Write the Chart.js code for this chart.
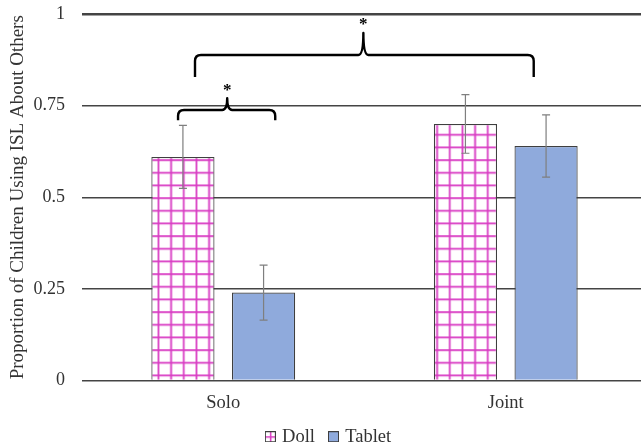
<!DOCTYPE html>
<html>
<head>
<meta charset="utf-8">
<script src="https://cdn.jsdelivr.net/npm/chart.js@4/dist/chart.umd.min.js"></script>
<style>
  html, body { margin: 0; padding: 0; background: #fff; overflow: hidden; }
  #wrap { width: 647px; height: 447px; }
</style>
</head>
<body>
<div id="wrap"><canvas id="chart_isl" width="647" height="447"></canvas></div>
<script>
// data
var categories = ['Solo', 'Joint'];
var seriesNames = ['Doll', 'Tablet'];
var dollValues = [0.61, 0.70];
var tabletValues = [0.24, 0.64];
var dollErrors = [0.086, 0.08];
var tabletErrors = [0.075, 0.085];
var yTicks = [0, 0.25, 0.5, 0.75, 1];
var yTickLabels = ['0', '0.25', '0.5', '0.75', '1'];

var FONT = '"Liberation Serif", "Times New Roman", serif';
var PINK = '#d93cc3';
var BLUE = '#8faadc';
var EDGE = '#3f3f3f';
var TEXT = '#333333';

// pink grid fill for the doll bars
function gridPattern() {
  var c = document.createElement('canvas');
  c.width = 38; c.height = 38;
  var g = c.getContext('2d');
  g.fillStyle = '#fff';
  g.fillRect(0, 0, 38, 38);
  g.fillStyle = PINK;
  for (var i = 0; i < 3; i++) {
    var p = i * 38 / 3;
    g.fillRect(p, 0, 1.8, 38);
    g.fillRect(0, p, 38, 1.8);
  }
  var pat = document.getElementById('chart_isl').getContext('2d').createPattern(c, 'repeat');
  if (pat.setTransform) pat.setTransform(new DOMMatrix().translate(5.5, 7.2));
  return pat;
}

function legendIcon(kind) {
  var c = document.createElement('canvas');
  c.width = 11; c.height = 11;
  var g = c.getContext('2d');
  g.fillStyle = kind === 'doll' ? '#fff' : BLUE;
  g.fillRect(0, 0, 11, 11);
  if (kind === 'doll') {
    g.fillStyle = PINK;
    g.fillRect(5, 1, 1.5, 9);
    g.fillRect(1, 5, 9, 1.5);
  }
  g.strokeStyle = EDGE;
  g.lineWidth = 1;
  g.strokeRect(0.5, 0.5, 10, 10);
  return c;
}

var errorBars = {
  id: 'errorBars',
  afterDatasetsDraw: function (chart) {
    var ctx = chart.ctx;
    var y = chart.scales.y;
    var errs = [dollErrors, tabletErrors];
    ctx.save();
    ctx.strokeStyle = '#7f7f7f';
    ctx.lineWidth = 1.2;
    chart.data.datasets.forEach(function (ds, di) {
      chart.getDatasetMeta(di).data.forEach(function (bar, i) {
        var v = ds.data[i], e = errs[di][i];
        var top = y.getPixelForValue(v + e), bot = y.getPixelForValue(v - e);
        ctx.beginPath();
        ctx.moveTo(bar.x, top); ctx.lineTo(bar.x, bot);
        ctx.moveTo(bar.x - 4, top); ctx.lineTo(bar.x + 4, top);
        ctx.moveTo(bar.x - 4, bot); ctx.lineTo(bar.x + 4, bot);
        ctx.stroke();
      });
    });
    ctx.restore();
  }
};

// significance braces, placed in category / value units
var braces = {
  id: 'braces',
  afterDraw: function (chart) {
    var ctx = chart.ctx, x = chart.scales.x, y = chart.scales.y;
    var list = [
      { a: -0.16, b: 0.184, m: 0.014, line: 0.738, foot: 0.71, tip: 0.77, star: 0.80 },
      { a: -0.10, b: 1.099, m: 0.496, line: 0.888, foot: 0.828, tip: 0.948, star: 0.978 }
    ];
    ctx.save();
    ctx.strokeStyle = '#000';
    ctx.lineWidth = 2.4;
    ctx.lineJoin = 'round';
    list.forEach(function (b) {
      var xa = x.getPixelForValue(b.a), xb = x.getPixelForValue(b.b), xm = x.getPixelForValue(b.m);
      var yl = y.getPixelForValue(b.line), yf = y.getPixelForValue(b.foot), yt = y.getPixelForValue(b.tip);
      var r = 6;
      ctx.beginPath();
      ctx.moveTo(xa, yf);
      ctx.lineTo(xa, yl + r);
      ctx.quadraticCurveTo(xa, yl, xa + r, yl);
      ctx.lineTo(xm - 5, yl);
      ctx.quadraticCurveTo(xm, yl, xm, yt);
      ctx.quadraticCurveTo(xm, yl, xm + 5, yl);
      ctx.lineTo(xb - r, yl);
      ctx.quadraticCurveTo(xb, yl, xb, yl + r);
      ctx.lineTo(xb, yf);
      ctx.stroke();
      ctx.fillStyle = '#000';
      ctx.font = 'bold 17px ' + FONT;
      ctx.textAlign = 'center';
      ctx.textBaseline = 'middle';
      ctx.fillText('*', xm, y.getPixelForValue(b.star) + 3);
    });
    ctx.restore();
  }
};

// nudge the legend a little to the right, as in the original figure
var legendNudge = {
  id: 'legendNudge',
  afterLayout: function (chart) {
    if (chart.legend) { chart.legend.left += 6; chart.legend.right += 6; }
  }
};

var chart_isl = new Chart(document.getElementById('chart_isl'), {
  type: 'bar',
  data: {
    labels: categories,
    datasets: [
      {
        label: seriesNames[0],
        data: dollValues,
        backgroundColor: gridPattern(),
        borderColor: EDGE,
        borderWidth: 1.2,
        categoryPercentage: 0.571,
        barPercentage: 0.783
      },
      {
        label: seriesNames[1],
        data: tabletValues,
        backgroundColor: BLUE,
        borderColor: EDGE,
        borderWidth: 1.2,
        categoryPercentage: 0.571,
        barPercentage: 0.783
      }
    ]
  },
  options: {
    animation: false,
    responsive: false,
    devicePixelRatio: 1,
    layout: { padding: { top: 14, left: 0, right: 0, bottom: -9 } },
    plugins: {
      tooltip: { enabled: false },
      legend: {
        position: 'bottom',
        labels: {
          color: TEXT,
          font: { family: FONT, size: 18.5 },
          usePointStyle: true,
          pointStyleWidth: 5,
          padding: 16,
          generateLabels: function () {
            return [
              { text: seriesNames[0], pointStyle: legendIcon('doll'), fontColor: TEXT, datasetIndex: 0 },
              { text: seriesNames[1], pointStyle: legendIcon('tablet'), fontColor: TEXT, datasetIndex: 1 }
            ];
          }
        }
      }
    },
    scales: {
      x: {
        grid: { display: false, drawTicks: false },
        border: { display: false },
        afterFit: function (s) { s.height = 31; },
        ticks: { color: TEXT, font: { family: FONT, size: 18.5 }, padding: 12 }
      },
      y: {
        min: 0,
        max: 1,
        afterFit: function (s) { s.width = 82; },
        afterBuildTicks: function (s) { s.ticks = yTicks.map(function (v) { return { value: v }; }); },
        border: { display: false },
        grid: {
          drawTicks: true,
          tickLength: 17,
          tickColor: 'rgba(0,0,0,0)',
          color: '#444444',
          lineWidth: function (c) { return c.tick && c.tick.value === 1 ? 2.6 : 1.4; }
        },
        ticks: {
          color: TEXT,
          font: { family: FONT, size: 18 },
          padding: 0,
          callback: function (v) { return yTickLabels[yTicks.indexOf(v)]; }
        },
        title: {
          display: true,
          text: 'Proportion of Children Using ISL About Others',
          color: TEXT,
          font: { family: FONT, size: 19 },
          padding: { top: 7, bottom: 0 }
        }
      }
    }
  },
  plugins: [errorBars, braces, legendNudge]
});
</script>
</body>
</html>
